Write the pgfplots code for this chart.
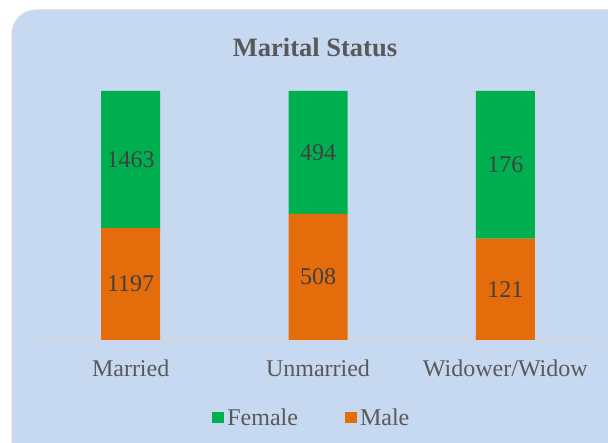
\documentclass[border=0pt]{standalone}
\usepackage{fontspec}
\setmainfont{Liberation Serif}
\usepackage{pgfplots}
\pgfplotsset{compat=1.18}
\usepackage{pgfplotstable}
\definecolor{bgblue}{HTML}{C6D9F1}
\definecolor{fgreen}{HTML}{00B050}
\definecolor{morange}{HTML}{E46C0A}
\definecolor{txtgray}{HTML}{595959}
\definecolor{lblgray}{HTML}{404040}
\definecolor{axgray}{HTML}{D4D4D4}
\pgfplotstableread{
x male female
0 1197 1463
1 508 494
2 121 176
}\datatable
\begin{document}
\begin{tikzpicture}[x=1pt,y=1pt]
\useasboundingbox (0,0) rectangle (608,443);
\fill[white] (0,0) rectangle (608,443);
\begin{scope}
\clip (0,0) rectangle (608,443);
\filldraw[fill=bgblue, draw=black!15, line width=1pt, rounded corners=24pt] (12,-30) rectangle (650,433);
\end{scope}
\node[font=\fontsize{26.5}{30}\selectfont\bfseries, text=txtgray] at (315,396) {Marital Status};
\begin{axis}[
  at={(37pt,103pt)}, anchor=south west,
  scale only axis, width=562pt, height=249pt,
  xmin=-0.5, xmax=2.5, ymin=0, ymax=100,
  ybar stacked, bar width=59pt,
  axis y line=none, axis x line*=bottom,
  axis line style={draw=axgray, line width=1.2pt},
  xtick={0,1,2}, xticklabels={Married,Unmarried,Widower/Widow},
  major tick length=0pt, xtick style={draw=none},
  xticklabel style={font=\fontsize{24}{28}\selectfont, text=txtgray, anchor=base, yshift=-37pt},
  legend columns=2, reverse legend,
  legend style={at={(0.490,-0.311)}, anchor=center, draw=none, fill=none,
    font=\fontsize{24}{28}\selectfont, text=txtgray,
    /tikz/every even column/.append style={column sep=44pt},
    inner sep=0pt, outer sep=0pt, nodes={inner xsep=3pt}},
  legend image code/.code={\fill[#1] (0pt,-5.5pt) rectangle (12pt,5.5pt);},
]
\addplot[fill=morange, draw=none] table[x=x, y expr={100*\thisrow{male}/(\thisrow{male}+\thisrow{female})}] {\datatable};
\addplot[fill=fgreen, draw=none] table[x=x, y expr={100*\thisrow{female}/(\thisrow{male}+\thisrow{female})}] {\datatable};
\legend{Male, Female}
\end{axis}
\begin{axis}[
  at={(37pt,103pt)}, anchor=south west,
  scale only axis, width=562pt, height=249pt,
  xmin=-0.5, xmax=2.5, ymin=0, ymax=100,
  hide axis, clip=false,
  every node near coord/.append style={anchor=center, font=\fontsize{24}{28}\selectfont, text=lblgray},
]
\addplot[draw=none, mark=none, nodes near coords, point meta=explicit symbolic]
  table[x=x, y expr={50*\thisrow{male}/(\thisrow{male}+\thisrow{female})}, meta=male] {\datatable};
\addplot[draw=none, mark=none, nodes near coords, point meta=explicit symbolic]
  table[x=x, y expr={100*\thisrow{male}/(\thisrow{male}+\thisrow{female})+50*\thisrow{female}/(\thisrow{male}+\thisrow{female})}, meta=female] {\datatable};
\end{axis}
\end{tikzpicture}
\end{document}
